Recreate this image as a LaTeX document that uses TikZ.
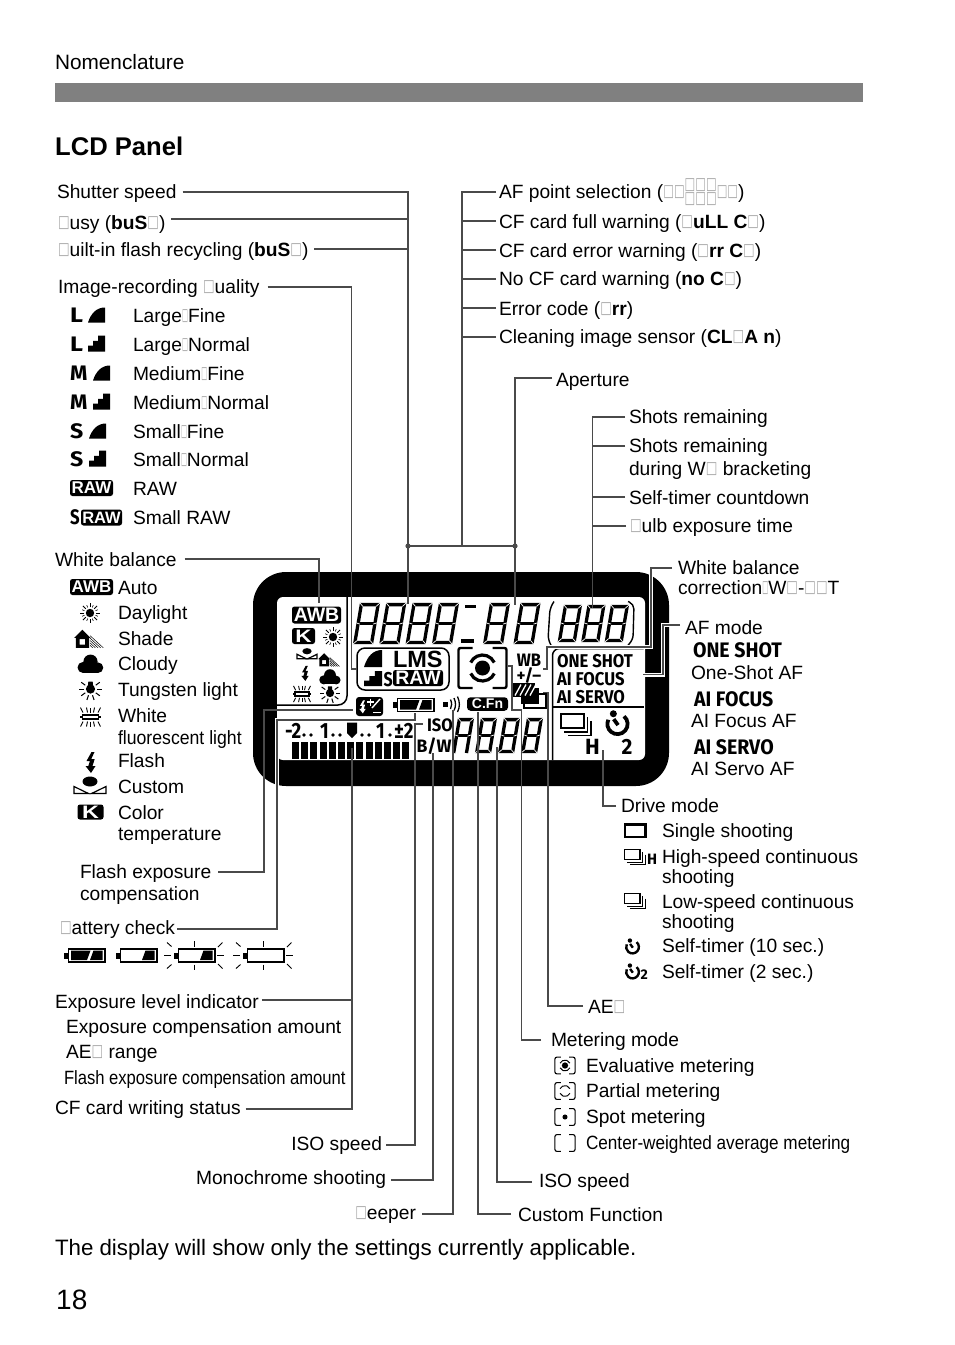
\documentclass[tikz,border=0pt]{standalone}
\usepackage{fontspec}
\usepackage{graphicx}
\setmainfont{Liberation Sans}
\newfontfamily\dv{DejaVu Sans}
\newfontfamily\fc{Fira Sans}
\usetikzlibrary{calc}
\definecolor{leadc}{HTML}{4A4A4A}
\definecolor{tofuc}{HTML}{A8A8A8}
\definecolor{barc}{HTML}{808080}
\newcommand\tf{{\color{tofuc}\mdseries\dv\raisebox{.08em}{\scalebox{.64}[.88]{□}}}}
\newcommand\tn{{\color{tofuc}\mdseries\dv\raisebox{.08em}{\scalebox{.33}[.88]{□}}}}
\newcommand\cd[3]{{\fontsize{#1}{#1}\selectfont\fc\bfseries\scalebox{#2}[1]{#3}}}
\newcommand\ns[2]{\scalebox{#1}[1]{#2}}
\tikzset{
 lbl/.style={anchor=base west,inner sep=0pt,outer sep=0pt,font=\fontsize{19.2}{22}\selectfont},
 big/.style={anchor=base west,inner sep=0pt,outer sep=0pt,font=\fontsize{20.8}{24}\selectfont},
 icotext/.style={anchor=base west,inner sep=0pt,outer sep=0pt},
 leadA/.style={draw=leadc,line width=1.2pt},
 leadB/.style={draw=leadc,line width=1.8pt},
 cased/.style={preaction={draw=white,line width=4pt}},
 badge/.style={fill=black,rounded corners=2.5pt,text=white,inner sep=0pt,font=\bfseries},
}
\newcommand\lb[4][]{\node[lbl,#1] (#2) at (#3) {#4};}
\newcommand\leadR[5][leadA]{\draw[#1] ([xshift=#3pt]#2.base east |- 0,#4) #5;}
\newcommand\leadL[5][leadA]{\draw[#1] ([xshift=-#3pt]#2.base west |- 0,#4) #5;}
\newcommand\fineI[4]{\fill (#1,#2) .. controls ($(#1,#2)+(.18*#3,-.62*#4)$) and ($(#1,#2)+(.5*#3,-#4)$) .. ($(#1,#2)+(#3,-#4)$) -- ($(#1,#2)+(#3,0)$) -- cycle;}
\newcommand\normI[4]{\fill (#1,#2) -- ++(0,-.36*#4) -- ++(.3*#3,0) -- ++(0,-.3*#4) -- ++(.3*#3,0) -- ++(0,-.34*#4) -- ++(.4*#3,0) -- ++(0,#4) -- cycle;}
\newcommand\sunI[3]{\begin{scope}[shift={(#1,#2)},x=1pt,y=1pt,scale=#3]
 \fill (0,0) circle (4.2);
 \foreach \a in {0,45,...,315}{\draw[line width=.9pt] (\a:6) -- (\a:10);}
 \foreach \a in {22.5,67.5,...,337.5}{\draw[line width=.6pt] (\a:6) -- (\a:8.5);}
\end{scope}}
\newcommand\tungI[3]{\begin{scope}[shift={(#1,#2)},x=1pt,y=1pt,scale=#3]
 \fill (0,0) circle (4.6);
 \fill (-2.6,0) -- (2.6,0) -- (2.2,7.5) -- (-2.2,7.5) -- cycle;
 \foreach \a in {0,36,144,180,216,252,288,324}{\draw[line width=1pt] (\a:6.5) -- (\a:11.5);}
\end{scope}}
\newcommand\fluoI[3]{\begin{scope}[shift={(#1,#2)},x=1pt,y=1pt,scale=#3]
 \draw[line width=1.6pt] (-8,-2.2) rectangle (8,2.2);
 \fill (-10.5,-1.2) rectangle (-8,1.2); \fill (8,-1.2) rectangle (10.5,1.2);
 \foreach \xa/\xb in {-7.5/-2.5,-3/-1,0/0,3/1,7.5/2.5}{\draw[line width=.9pt] (\xa,4.5) -- (\xa+\xb,9.5); \draw[line width=.9pt] (\xa,-4.5) -- (\xa+\xb,-9.5);}
\end{scope}}
\newcommand\shadeI[3]{\begin{scope}[shift={(#1,#2)},x=1pt,y=1pt,scale=#3]
 \fill[even odd rule] (-13.5,1) -- (-6,8.5) -- (1.5,1) -- (0,1) -- (0,-8) -- (-12,-8) -- (-12,1) -- cycle (-8.5,-5) rectangle (-3.5,0);
 \foreach \i in {1,2,...,5}{\draw[line width=.5pt] (1,{-8+\i*2.2}) -- ({1+\i*2.4},-8);}
\end{scope}}
\newcommand\cloudI[3]{\begin{scope}[shift={(#1,#2)},x=1pt,y=1pt,scale=#3]
 \fill (-6.5,-3) circle (4.8); \fill (6.5,-3.2) circle (4.6); \fill (0,2) circle (6.2);
 \fill (-6.5,-7.8) rectangle (6.5,-2);
\end{scope}}
\newcommand\boltI[3]{\begin{scope}[shift={(#1,#2)},x=1pt,y=1pt,scale=#3]
 \fill (1,10) -- (-4,1) -- (-.5,1) -- (-2.2,-4) -- (-5,-4) -- (.5,-11) -- (5,-4) -- (2,-4) -- (4.2,3) -- (.8,3) -- (4,10) -- cycle;
\end{scope}}
\newcommand\custI[3]{\begin{scope}[shift={(#1,#2)},x=1pt,y=1pt,scale=#3]
 \fill (0,4.5) ellipse (7.5 and 5);
 \draw[line width=1.2pt,line join=miter] (-16,-7.5) -- (-1.5,-7.5) -- (-16,-.5) -- cycle;
 \draw[line width=1.2pt,line join=miter] (16,-7.5) -- (1.5,-7.5) -- (16,-.5) -- cycle;
\end{scope}}
\newcommand\timerI[3]{\begin{scope}[shift={(#1,#2)},x=1pt,y=1pt,scale=#3]
 \draw[line width=#3*2.8pt] (50:7.5) arc[start angle=50,end angle=-205,radius=7.5];
 \fill (112:8.2) circle (2.6);
 \draw[line width=#3*2.8pt] (-2.8,3.6) -- (.4,-.8);
\end{scope}}
\newcommand\contI[5]{\begin{scope}[shift={(#1,#2)},x=1pt,y=1pt,scale=#3]
 \draw[line width=#4] (0,0) rectangle (12.5,-8);
 \draw[line width=#5] (14.5,-2) -- (14.5,-10) -- (2,-10);
 \draw[line width=#5] (16.5,-4) -- (16.5,-12) -- (4,-12);
\end{scope}}
\newcommand\meterI[5]{\begin{scope}[shift={(#1,#2)},x=1pt,y=1pt,scale=#3]
 \draw[line width=#4,rounded corners=2pt] (-10,20) -- (-24,20) -- (-24,-20) -- (-10,-20);
 \draw[line width=#4,rounded corners=2pt] (10,20) -- (24,20) -- (24,-20) -- (10,-20);
 #5
\end{scope}}
\newcommand\ringI[1]{\draw[line width=#1] (25:13) arc[start angle=25,end angle=155,radius=13];
 \draw[line width=#1] (205:13) arc[start angle=205,end angle=335,radius=13];}
\newcommand\battI[3]{\begin{scope}[shift={(#1,#2)},x=1pt,y=1pt]
 \draw[line width=1.7pt] (5.5,-6.5) rectangle (42,6.5);
 \fill (.5,-3) rectangle (4.5,3);
 \ifnum#3>0 \fill (30.5,5) -- (39.6,5) -- (39.6,-4.6) -- (27,-4.6) -- cycle;\fi
 \ifnum#3>1 \fill (8,5) -- (27.5,5) -- (24,-4.6) -- (8,-4.6) -- cycle;\fi
\end{scope}}
\newcommand\raysI[2]{\begin{scope}[shift={(#1,#2)},x=1pt,y=1pt]
 \foreach \pa/\pb/\pc/\pd in {-9/0/-2.5/0,44/0/50.5/0,21/9/21/14.5,21/-9/21/-14.5,-1.5/9/-6/13,45/8.5/49.5/13,-1.5/-9/-6/-13,45/-8.5/49.5/-13}{\draw[line width=.9pt] (\pa,\pb) -- (\pc,\pd);}
\end{scope}}
\newcommand\digit[5][1]{\begin{scope}[shift={(#2,#3)},xslant=.17,line width=3.3pt,line join=miter]
 \pgfmathsetmacro\mh{#5/2}
 \ifnum#1=1 \draw (1.6,1.6) rectangle (#4-1.6,#5-1.6);
 \else \draw (1.6,#5) -- (1.6,1.6) -- (#4-1.6,1.6) -- (#4-1.6,#5); \fi
 \draw (1.6,\mh) -- (#4-1.6,\mh);
 \begin{scope}[white,line width=.7pt]
 \draw (-.2,-.2) -- (3.4,3.4); \draw (#4+.2,-.2) -- (#4-3.4,3.4);
 \draw (-.2,\mh-.6) -- (3.4,\mh+.6); \draw (#4+.2,\mh-.6) -- (#4-3.4,\mh+.6);
 \ifnum#1=1 \draw (-.2,#5+.2) -- (3.4,#5-3.4); \draw (#4+.2,#5+.2) -- (#4-3.4,#5-3.4); \fi
 \end{scope}
\end{scope}}
\begin{document}
\begin{tikzpicture}[x=1pt,y=-1pt]
\useasboundingbox (0,0) rectangle (954,1345);
\node[big] (nom) at (55,69) {Nomenclature};
\fill[barc] (55,83) rectangle (863,102);
\node[anchor=base west,inner sep=0pt,font=\fontsize{25.6}{30}\selectfont\bfseries] (title) at (55,155) {LCD Panel};
% LCD panel
\fill[rounded corners=33pt] (253,572) rectangle (669,786);
\fill[white,rounded corners=6pt] (277,597) rectangle (645,760);
\draw[line width=1.5pt,rounded corners=9pt] (347,597) -- (347,705) -- (277,705);
\draw[line width=1.5pt,rounded corners=7pt] (643.5,648.5) -- (552.5,648.5) -- (552.5,760);
\draw[line width=1.5pt] (552.5,707) -- (644,707);
\node[badge,minimum width=49pt,minimum height=17pt] (pAWB) at (316.5,615) {\fontsize{19.5}{19.5}\selectfont AWB};
\node[badge,minimum width=23pt,minimum height=16pt] (pK) at (303.5,636) {\fontsize{18}{18}\selectfont\scalebox{1.25}[1]{K}};
\sunI{333}{637}{1}
\custI{307}{654}{.62}
\shadeI{329}{660}{.8}
\boltI{305}{673}{.72}
\cloudI{330}{677}{.95}
\fluoI{302}{694}{.85}
\tungI{330}{693}{.9}
\digit{360}{603}{20}{41}\digit{386.3}{603}{20}{41}\digit{412.6}{603}{20}{41}\digit{439}{603}{20}{41}
\draw[line width=3pt] (465,606) -- (476,606);
\draw[line width=3.5pt] (461,641) -- (474,641);
\digit{490}{603}{20}{41}
\fill (513.5,638.5) rectangle (518,643);
\digit{520.5}{603}{20}{41}
\draw[line width=1.4pt,rounded corners=5pt] (554,601.5) -- (550,608) -- (548,640) -- (551,645);
\draw[line width=1.4pt,rounded corners=5pt] (628,601.5) -- (634,604) -- (633,640) -- (628,645);
\digit{564}{605}{18}{37}\digit{587.5}{605}{18}{37}\digit{611}{605}{18}{37}
\digit[0]{458}{718}{16}{35}\digit{481}{718}{16}{35}\digit{504}{718}{16}{35}\digit{527}{718}{16}{35}
\draw[line width=1.5pt,rounded corners=8pt] (357,648) rectangle (449,690);
\fineI{364}{667}{18}{17}
\normI{364}{686}{18}{15}
\node[icotext,font=\fontsize{23.5}{23.5}\selectfont\bfseries] (pLMS) at (393,667) {LMS};
\node[icotext] (pS) at (383.5,686) {\cd{20}{.8}{S}};
\node[badge,minimum width=50pt,minimum height=16pt] (pRAW) at (418,678) {\fontsize{19.5}{19.5}\selectfont RAW};
\meterI{482.5}{668}{1}{2.4pt}{\ringI{3.2pt}\fill (0,0) circle (7.5);}
\node[anchor=center,inner sep=0pt] (pWB) at (529,660) {\cd{18}{.92}{WB}};
\node[anchor=center,inner sep=0pt] (pPM) at (529,676) {\cd{17}{1}{+/–}};
\draw[line width=1.7pt,fill=white] (524,694) rectangle (546,708);
\fill (521,688) rectangle (539,704);
\fill (513,683) rectangle (535,697);
\foreach \i in {0,1,2,3}{\draw[white,line width=1.3pt] (515+\i*5,695.5) -- (521+\i*5,684.5);}
\node[icotext] (pOS) at (557,667) {\cd{18.5}{.9}{ONE SHOT}};
\node[icotext] (pAF) at (557,685) {\cd{18.5}{.9}{AI FOCUS}};
\node[icotext] (pAS) at (557,703) {\cd{18.5}{.9}{AI SERVO}};
\contI{560.5}{713.5}{1.85}{2pt}{1.2pt}
\timerI{617.5}{724}{1.35}
\node[icotext] (pH) at (585,754) {\cd{22}{1}{H}};
\node[icotext] (p2) at (621.5,754) {\cd{22}{.95}{2}};
\node[fill=black,rounded corners=3pt,minimum width=27pt,minimum height=19pt,inner sep=0pt] (pFC) at (369.5,706.5) {};
\begin{scope}[white]
\boltI{362.5}{706.5}{.62}
\draw[line width=1.4pt] (367,702) -- (374,702) (370.5,698.5) -- (370.5,705.5);
\draw[line width=1.4pt] (372,708) -- (380,699);
\draw[line width=1.4pt] (373,712.5) -- (381,712.5);
\end{scope}
\battI{392}{705}{2}
\fill (442.5,701.5) rectangle (448,707);
\draw[line width=1.3pt] (450.5,699.5) .. controls (452,703) and (452,706) .. (450.5,709);
\draw[line width=1.3pt] (454,698) .. controls (456,702.5) and (456,706.5) .. (454,710.5);
\draw[line width=1.3pt] (457.5,696.5) .. controls (460,702) and (460,707) .. (457.5,712);
\node[badge,minimum width=41pt,minimum height=13.5pt,rounded corners=3.5pt] (pCF) at (487.5,704) {\fontsize{14}{14}\selectfont C.Fn};
\node[icotext] (pISO) at (427,731) {\cd{18}{.92}{ISO}};
\node[icotext] (pBW) at (416.5,752.5) {\cd{18}{.98}{B/W}};
\node[icotext] (pE1) at (285,738) {\cd{22}{.85}{-2}};
\node[icotext] (pE2) at (320,738) {\cd{22}{.85}{1}};
\node[icotext] (pE3) at (376,738) {\cd{22}{.85}{1}};
\node[icotext] (pE4) at (394,738) {\cd{22}{.85}{±2}};
\foreach \xa in {304,311,333,340,362,369,390}{\fill (\xa,735) circle (1.8);}
\fill (347,722.5) -- (357,722.5) -- (357,733) -- (352,738) -- (347,733) -- cycle;
\foreach \i in {0,...,12}{\fill (292+\i*9.2,741.5) rectangle +(7,17);}
% left labels
\lb{shutter}{57,198}{Shutter speed}
\lb{busy}{58,229}{\tf usy (\textbf{buS\tf})}
\lb{recyc}{58,256}{\tf uilt-in flash recycling (\textbf{buS\tf})}
\lb{quality}{58,293}{Image-recording \tf uality}
\foreach \nm/\yy/\lt/\wf/\txt in {q1/322/L/1.2/Large\tn Fine,q2/351/L/1.2/Large\tn Normal,q3/380/M/1.05/Medium\tn Fine,q4/409/M/1.05/Medium\tn Normal,q5/438/S/1.1/Small\tn Fine,q6/466/S/1.1/Small\tn Normal}{
 \node[icotext] (\nm i) at (70,\yy) {\cd{21}{\wf}{\lt}};
 \lb{\nm}{133,\yy}{\txt}
}
\fineI{88}{322.5}{17}{15}
\normI{88}{351.5}{17}{16}
\fineI{93}{380.5}{17}{15}
\normI{93}{409.5}{17}{16}
\fineI{89}{438.5}{17}{15}
\normI{89}{466.5}{17}{16}
\node[badge,minimum width=43pt,minimum height=16pt] (qRaw) at (91.5,488) {\fontsize{17}{17}\selectfont RAW};
\lb{q7}{133,495}{RAW}
\node[icotext] (qS) at (70,524) {\cd{21}{.8}{S}};
\node[badge,minimum width=41pt,minimum height=16pt] (qSRaw) at (101.5,517.5) {\fontsize{16.5}{16.5}\selectfont RAW};
\lb{q8}{133,524}{Small RAW}
\lb{wb}{55,566}{White balance}
\node[badge,minimum width=43pt,minimum height=16pt] (wAWB) at (91.5,587) {\fontsize{17}{17}\selectfont AWB};
\lb{w1}{118,594}{Auto}
\sunI{90}{613}{1}\lb{w2}{118,619}{Daylight}
\shadeI{89}{639}{1.1}\lb{w3}{118,645}{Shade}
\cloudI{90.5}{664}{1.15}\lb{w4}{118,670}{Cloudy}
\tungI{90.5}{689}{1}\lb{w5}{118,696}{Tungsten light}
\fluoI{90.5}{717}{1}\lb{w6}{118,722}{White}
\node[lbl] (w6b) at (118,744) {\ns{.92}{fluorescent light}};
\boltI{90.5}{762}{1}\lb{w7}{118,767}{Flash}
\custI{90}{786}{1}\lb{w8}{118,793}{Custom}
\node[badge,minimum width=26pt,minimum height=15pt] (wK) at (90.5,812) {\fontsize{18}{18}\selectfont\scalebox{1.3}[1]{K}};
\lb{w9}{118,819}{Color}
\lb{w9b}{118,840}{temperature}
\lb{fec}{80,878}{Flash exposure}
\lb{fec2}{80,900}{compensation}
\lb{bat}{60,934}{\tf attery check}
\battI{63}{955.5}{2}
\battI{115}{955.5}{1}
\battI{173}{955.5}{1}\raysI{173}{955.5}
\battI{242}{955.5}{0}\raysI{242}{955.5}
\lb{exp}{55,1008}{Exposure level indicator}
\lb{exp1}{66,1033}{Exposure compensation amount}
\lb{exp2}{66,1058}{AE\tf{} range}
\node[lbl] (exp3) at (64,1084) {\ns{.865}{Flash exposure compensation amount}};
\lb{cfw}{55,1114}{CF card writing status}
\node[lbl,anchor=base east] (isoL) at (382,1150) {ISO speed};
\node[lbl,anchor=base east] (mono) at (386,1184) {Monochrome shooting};
\node[lbl,anchor=base east] (beep) at (416,1219) {\tf eeper};
\lb{isoR}{539,1187}{ISO speed}
\lb{cfn}{518,1221}{Custom Function}
\lb{aeb}{588,1013}{AE\tf}
\lb{mtr}{551,1046}{Metering mode}
\lb{m1}{586,1072}{Evaluative metering}
\lb{m2}{586,1097}{Partial metering}
\lb{m3}{586,1123}{Spot metering}
\node[lbl] (m4) at (586,1149) {\ns{.894}{Center-weighted average metering}};
\meterI{565}{1065.5}{.42}{1.1pt}{\ringI{1pt}\fill (0,0) circle (7.5);}
\meterI{565}{1091}{.42}{1.1pt}{\ringI{1pt}}
\meterI{565}{1117}{.42}{1.1pt}{\fill (0,0) circle (6);}
\meterI{565}{1143}{.42}{1.1pt}{}
\node[lbl,font=\fontsize{22.3}{26}\selectfont] (note) at (55,1255) {The display will show only the settings currently applicable.};
\node[anchor=base west,inner sep=0pt,font=\fontsize{28}{32}\selectfont] (page) at (56,1309) {18};
% right labels
\lb{afp}{499,198}{AF point selection (\scalebox{.92}[1]{\tf\tf\raisebox{.38em}{\rlap{\tf\tf\tf}}\raisebox{-.38em}{\tf\tf\tf}\tf\tf})}
\lb{cff}{499,228}{CF card full warning (\tf\textbf{uLL C\tf})}
\lb{cfe}{499,257}{CF card error warning (\tf\textbf{rr C\tf})}
\lb{cfn0}{499,285}{No CF card warning (\textbf{no C\tf})}
\lb{err}{499,315}{Error code (\tf\textbf{rr})}
\lb{cln}{499,343}{Cleaning image sensor (\textbf{CL\tf A n})}
\lb{apr}{556,386}{Aperture}
\lb{s1}{629,423}{Shots remaining}
\lb{s2}{629,452}{Shots remaining}
\lb{s2b}{629,475}{during W\tf{} bracketing}
\lb{s3}{629,504}{Self-timer countdown}
\lb{s4}{630,532}{\tf ulb exposure time}
\lb{wc}{678,574}{White balance}
\lb{wc2}{678,594}{correction\tn W\tf-\tf\tf T}
\lb{af}{685,634}{AF mode}
\node[icotext] (af1) at (693,657) {\cd{21}{.93}{ONE SHOT}};
\lb{af1b}{691,679}{One-Shot AF}
\node[icotext] (af2) at (694,706) {\cd{21}{.93}{AI FOCUS}};
\lb{af2b}{691,727}{AI Focus AF}
\node[icotext] (af3) at (694,754) {\cd{21}{.93}{AI SERVO}};
\lb{af3b}{691,775}{AI Servo AF}
\lb{dr}{621,812}{Drive mode}
\draw[line width=2.4pt] (625,824.5) rectangle (645.5,837);
\lb{d1}{662,837}{Single shooting}
\contI{624.5}{849.5}{1.25}{1.6pt}{.9pt}
\node[icotext] (dH) at (647,864) {\cd{15}{1}{H}};
\lb{d2}{662,863}{High-speed continuous}
\lb{d2b}{662,883}{shooting}
\contI{624.5}{893.5}{1.25}{1.6pt}{.9pt}
\lb{d3}{662,908}{Low-speed continuous}
\lb{d3b}{662,928}{shooting}
\timerI{632.5}{947}{.85}
\lb{d4}{662,952}{Self-timer (10 sec.)}
\timerI{632.5}{972}{.85}
\node[icotext] (d2i) at (640.5,979) {\cd{14}{1}{2}};
\lb{d5}{662,978}{Self-timer (2 sec.)}
% connector ends
\coordinate (tShut) at (408,604);
\coordinate (tWB) at (319,603);
\coordinate (tQ) at (357,669);
\coordinate (jL) at (408,546);
\coordinate (jT) at (462,546);
\coordinate (jR) at (515,546);
\coordinate (tApr) at (515,605);
\coordinate (tShots) at (592.5,608);
\coordinate (tWBc) at (543,669);
\coordinate (tAF) at (643,674.5);
\coordinate (tDr) at (603,750);
\coordinate (tFEC) at (353,710);
\coordinate (tBat) at (415,713);
\coordinate (tExp) at (352,748);
\coordinate (tIso) at (423,724);
\coordinate (tMono) at (433,753);
\coordinate (tBeep) at (453,710);
\coordinate (tCfn) at (478,712);
\coordinate (tIsoR) at (496.7,747);
\coordinate (tMtr) at (508,666);
\coordinate (tAeb) at (543,692.5);
% connectors
\leadR[leadB]{shutter}{6}{192}{-| (tShut)}
\leadR{busy}{6}{219}{-| (tShut)}
\leadR[leadB]{recyc}{6}{249}{-| (tShut)}
\leadR{quality}{8}{287}{-| (351.5,669) -- (tQ)}
\leadR{wb}{8}{559}{-| (tWB)}
\draw[leadB,line width=1.5pt] (jL) -- (jR);
\fill[leadc] (jL) circle (2.6);
\fill[leadc] (jR) circle (2.6);
\foreach \nm/\yy in {afp/192,cff/221,cfe/250,cfn0/279,err/308,cln/337}{\leadL[leadA,line width=1.4pt]{\nm}{3}{\yy}{-| (jT)}}
\leadL[leadB]{apr}{4}{378}{-| (tApr)}
\leadL[leadB]{s1}{4}{417}{-| (tShots)}
\leadL[leadB]{s2}{4}{446}{-| (tShots)}
\leadL{s3}{4}{497}{-| (tShots)}
\leadL[leadB]{s4}{4}{526}{-| (tShots)}
\draw[leadB,cased] ([xshift=-6pt]wc.base west |- 0,568) -| (651,647) -| (547,669) -- (tWBc);
\draw[leadB,cased] ([xshift=-5pt]af.base west |- 0,625) -| (663,674.5) -- (tAF);
\leadL{dr}{5}{806}{-| (tDr)}
\leadR{fec}{7}{872}{-| (264,710) -- (tFEC)}
\draw[leadB,cased] ([xshift=2pt]bat.base east |- 0,929) -| (277,720) -| (tBat);
\leadR{exp}{3}{1000}{-| (tExp)}
\leadR[leadB]{cfw}{5}{1109}{-| (tExp)}
\leadR[leadB]{isoL}{4}{1145}{-| (415,724) -- (tIso)}
\leadR{mono}{5}{1180}{-| (tMono)}
\leadR[leadA,line width=1.5pt]{beep}{6}{1214}{-| (tBeep)}
\leadL[leadB]{isoR}{7}{1182}{-| (tIsoR)}
\leadL{cfn}{7}{1214}{-| (tCfn)}
\leadL{mtr}{10}{1040}{-| (521.7,710) -| (512,666) -- (tMtr)}
\leadL[leadB]{aeb}{5}{1006}{-| (547.7,692.5) -- (tAeb)}
\end{tikzpicture}
\end{document}
